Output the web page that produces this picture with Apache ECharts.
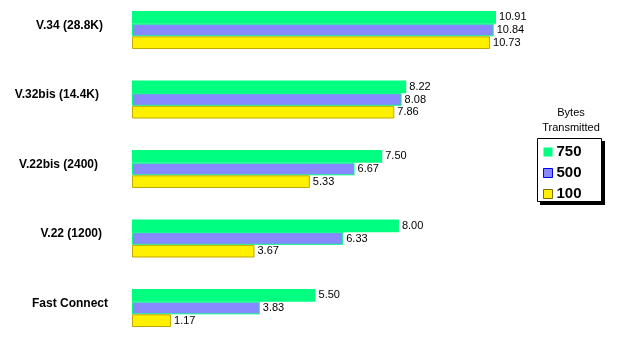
<!DOCTYPE html>
<html>
<head>
<meta charset="utf-8">
<script src="https://cdn.jsdelivr.net/npm/echarts@6/dist/echarts.min.js"></script>
<style>
  html, body { margin: 0; padding: 0; background: #fff; }
  #chart { width: 622px; height: 347px; }
</style>
</head>
<body>
<div id="chart"></div>
<script>
// Modem connection types, top to bottom
const categories = ['V.34 (28.8K)', 'V.32bis (14.4K)', 'V.22bis (2400)', 'V.22 (1200)', 'Fast Connect'];
// Values per packet size (bytes transmitted)
const bytes750 = [10.91, 8.22, 7.50, 8.00, 5.50];
const bytes500 = [10.84, 8.08, 6.67, 6.33, 3.83];
const bytes100 = [10.73, 7.86, 5.33, 3.67, 1.17];
const seriesNames = ['750', '500', '100'];

// right padding of each category label, nudging it left of the shared edge
const labelNudge = [5, 9, 10, 6, 0];

const FONT = 'Liberation Sans, Arial, sans-serif';
const chart = echarts.init(document.getElementById('chart'), null, { renderer: 'canvas' });

// one rich style per category label: raised a little above the bar group centre
const labelRich = {};
labelNudge.forEach((n, i) => {
  labelRich['c' + i] = {
    fontFamily: FONT,
    fontSize: 12,
    fontWeight: 'bold',
    color: '#000',
    padding: [0, n, 9, 0]
  };
});

const valueLabel = {
  show: true,
  position: 'right',
  distance: 3,
  color: '#000',
  fontFamily: FONT,
  fontSize: 11,
  formatter: p => p.value.toFixed(2)
};

chart.setOption({
  animation: false,
  backgroundColor: '#fff',
  graphic: [
    // legend caption
    {
      type: 'text',
      style: {
        text: 'Bytes\nTransmitted',
        x: 571, y: 105,
        align: 'center',
        verticalAlign: 'top',
        fontFamily: FONT,
        fontSize: 11,
        lineHeight: 15,
        fill: '#000'
      }
    },
    // legend frame with its drop shadow
    {
      type: 'rect', z: -1,
      shape: { x: 540, y: 141, width: 65, height: 64 },
      style: { fill: '#000' }
    },
    {
      type: 'rect', z: -1,
      shape: { x: 537.5, y: 138.5, width: 64, height: 63 },
      style: { fill: '#fff', stroke: '#000', lineWidth: 1 }
    }
  ],
  legend: {
    orient: 'vertical',
    left: 537,
    top: 138,
    padding: [6, 22, 3, 6],
    itemWidth: 9,
    itemHeight: 9,
    itemGap: 5,
    icon: 'rect',
    textStyle: {
      fontFamily: FONT,
      fontSize: 15,
      fontWeight: 'bold',
      color: '#000',
      lineHeight: 16,
      padding: [0, 0, 0, -1]
    },
    data: [
      { name: seriesNames[0], itemStyle: { borderWidth: 0 } },
      { name: seriesNames[1], itemStyle: { borderColor: '#0000ff', borderWidth: 1 } },
      { name: seriesNames[2], itemStyle: { borderColor: '#806c00', borderWidth: 1 } }
    ]
  },
  grid: {
    left: 132,
    top: 30,
    width: 400.4,
    height: 278,
    containLabel: false
  },
  xAxis: {
    type: 'value',
    min: 0,
    max: 12,
    show: false
  },
  yAxis: {
    type: 'category',
    inverse: true,
    boundaryGap: false,
    data: categories,
    axisLine: { show: false },
    axisTick: { show: false },
    splitLine: { show: false },
    axisLabel: {
      margin: 24,
      color: '#000',
      fontFamily: FONT,
      fontSize: 12,
      fontWeight: 'bold',
      formatter: (v, i) => '{c' + i + '|' + v + '}',
      rich: labelRich
    }
  },
  series: [
    {
      name: seriesNames[0],
      type: 'bar',
      data: bytes750,
      barGap: '0%',
      barCategoryGap: '45.3%',
      itemStyle: { color: '#00ff80' },
      label: valueLabel
    },
    {
      name: seriesNames[1],
      type: 'bar',
      data: bytes500,
      barGap: '0%',
      barCategoryGap: '45.3%',
      itemStyle: { color: '#8888ff', borderColor: '#00ff80', borderWidth: 1 },
      label: valueLabel
    },
    {
      name: seriesNames[2],
      type: 'bar',
      data: bytes100,
      barGap: '0%',
      barCategoryGap: '45.3%',
      itemStyle: { color: '#fff000', borderColor: '#c0a800', borderWidth: 1 },
      label: valueLabel
    }
  ]
});
</script>
</body>
</html>
